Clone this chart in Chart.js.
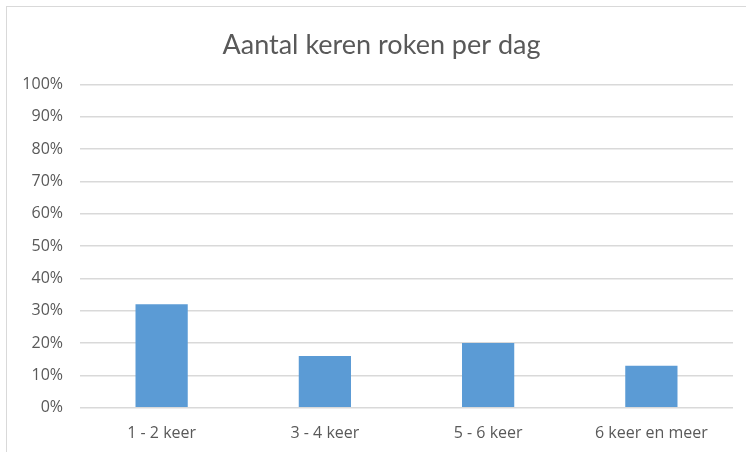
<!DOCTYPE html>
<html>
<head>
<meta charset="utf-8">
<script src="https://cdn.jsdelivr.net/npm/chart.js@4"></script>
<style>
    html, body { margin: 0; padding: 0; background: #fff; overflow: hidden; }
    #frame { position: absolute; left: 6px; top: 6px; width: 760px; height: 460px; border: 1px solid #d9d9d9; }
    #wrap { position: absolute; left: 0; top: 0; width: 746px; height: 452px; }
</style>
</head>
<body>
<div id="frame"></div>
<div id="wrap"><canvas id="chart"></canvas></div>
<script>
const categories = ['1 - 2 keer', '3 - 4 keer', '5 - 6 keer', '6 keer en meer'];
const values = [32, 16, 20, 13];
const yTicks = [0, 10, 20, 30, 40, 50, 60, 70, 80, 90, 100];

const textColor = '#595959';
const gridColor = '#d9d9d9';

new Chart(document.getElementById('chart'), {
    type: 'bar',
    data: {
        labels: categories,
        datasets: [{
            data: values,
            backgroundColor: '#5b9bd5',
            barPercentage: 0.64,
            categoryPercentage: 0.5
        }]
    },
    options: {
        responsive: true,
        maintainAspectRatio: false,
        animation: false,
        layout: {
            padding: {left: 17, right: 0, top: 29, bottom: -7}
        },
        plugins: {
            legend: {display: false},
            tooltip: {enabled: false},
            title: {
                display: true,
                text: 'Aantal keren roken per dag',
                color: textColor,
                font: {family: 'Lato', size: 27, weight: 'normal'},
                padding: {top: 0, bottom: 23}
            }
        },
        scales: {
            y: {
                min: 0,
                max: 100,
                afterFit: function (scale) {
                    scale.width = 63;
                },
                afterBuildTicks: function (scale) {
                    scale.ticks = yTicks.map(v => ({value: v}));
                },
                border: {display: false},
                grid: {color: gridColor, lineWidth: 1.5, drawTicks: false},
                ticks: {
                    color: textColor,
                    padding: 17,
                    font: {family: 'Open Sans', size: 16},
                    callback: v => v + '%'
                }
            },
            // empty right-hand spacer so the title stays centred on the frame
            y2: {
                type: 'linear',
                position: 'right',
                afterFit: function (scale) {
                    scale.width = 13;
                },
                border: {display: false},
                grid: {display: false, drawTicks: false},
                ticks: {display: false}
            },
            x: {
                border: {display: false},
                grid: {display: false, drawTicks: false},
                ticks: {
                    color: textColor,
                    padding: 16,
                    font: {family: 'Open Sans', size: 16}
                }
            }
        }
    }
});
</script>
</body>
</html>
